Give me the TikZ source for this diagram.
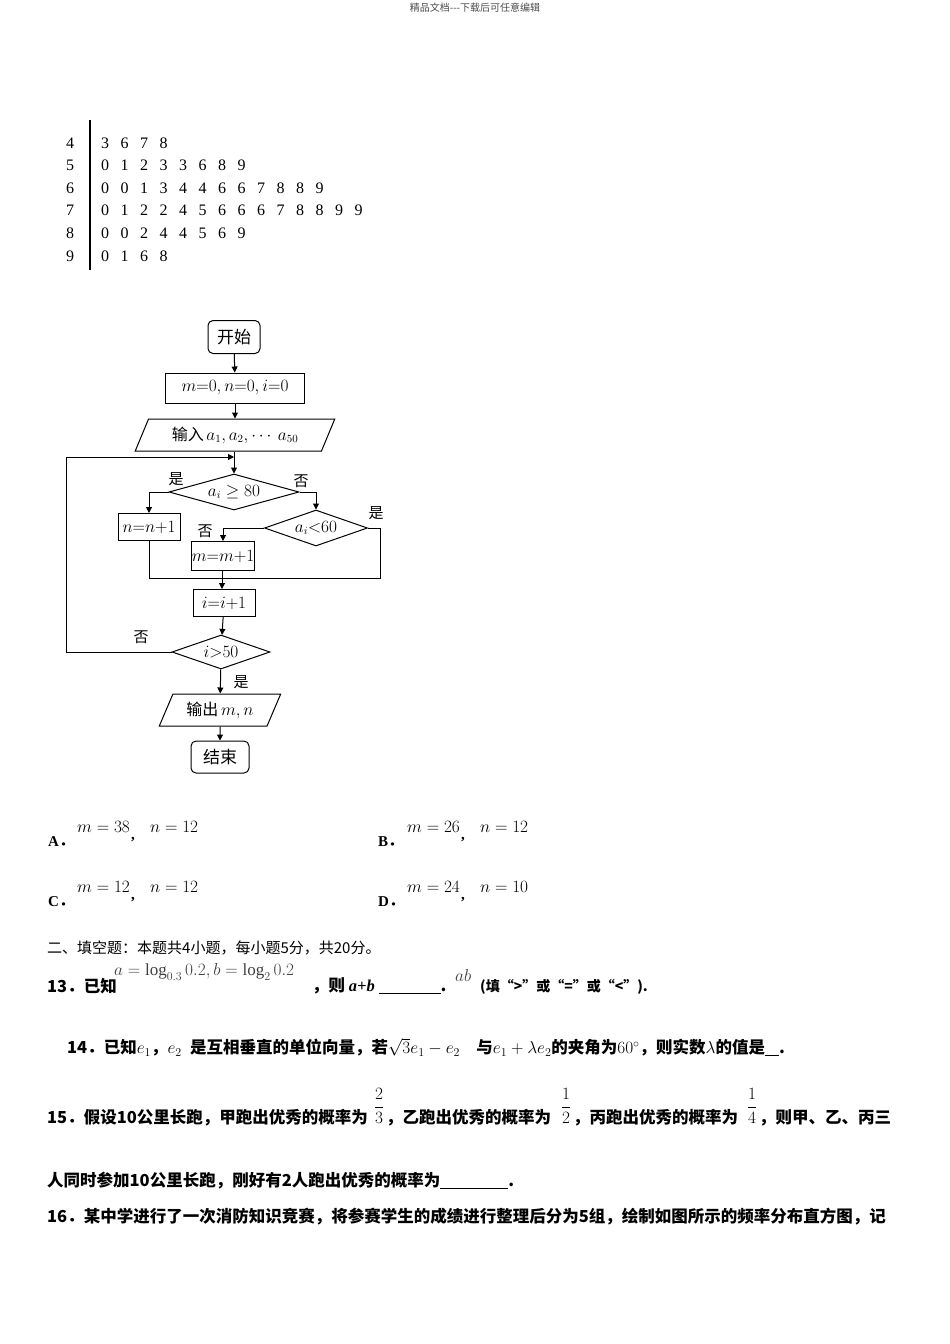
\documentclass[tikz,border=0pt]{standalone}
\usepackage{fontspec}
\setmainfont{Liberation Serif}
\newfontfamily\cjk{Noto Sans CJK SC}
\usetikzlibrary{arrows.meta,shapes.geometric,calc}
\begin{document}
\begin{tikzpicture}[x=1pt,y=-1pt,
 every node/.style={inner sep=0pt},
 txt/.style={anchor=west,font=\fontsize{16.5}{18}\selectfont\cjk\bfseries},
 fc/.style={draw,line width=1pt,font=\fontsize{16}{18}\selectfont},
 rbox/.style={fc,rectangle,rounded corners=5pt,minimum width=52pt,minimum height=33pt,font=\fontsize{17}{19}\selectfont\cjk},
 pbox/.style={fc,rectangle,minimum height=28pt},
 dia/.style={fc,diamond,aspect=3.6},
 par/.style={fc,trapezium,trapezium left angle=60,trapezium right angle=120,trapezium stretches=true,minimum height=32pt},
 ar/.style={line width=1pt,-{Triangle[length=6pt,width=6pt]}},
 ln/.style={line width=1pt},
 lab/.style={font=\fontsize{15}{17}\selectfont\cjk},
 fr/.style={font=\fontsize{17}{19}\selectfont}]
\useasboundingbox (0,0) rectangle (950,1344);
\node[font=\fontsize{10}{12}\selectfont\cjk,text=black!70] (hd) at (475,8) {精品文档---下载后可任意编辑};
% stem and leaf
\draw[line width=1.2pt] (90,120) -- (90,270);
\foreach \s/\y/\l [count=\k] in {4/143/{3 6 7 8},5/165/{0 1 2 3 3 6 8 9},6/188/{0 0 1 3 4 4 6 6 7 8 8 9},7/210/{0 1 2 2 4 5 6 6 6 7 8 8 9 9},8/233/{0 0 2 4 4 5 6 9},9/256/{0 1 6 8}}{
 \node[font=\fontsize{16}{18}\selectfont] (s\k) at (70,\y) {\s};
 \node[anchor=west,font=\fontsize{16}{18}\selectfont,text width=300pt] (l\k) at (101,\y) {\spaceskip=11.5pt\l};
}
% flowchart
\node[rbox] (st) at (234,337) {开始};
\node[pbox,minimum width=139pt,minimum height=30pt] (init) at (235,388) {$m{=}0,n{=}0,i{=}0$};
\node[par,minimum width=200pt] (inp) at (235,435) {\cjk 输入\,$a_1,a_2,\cdots\ a_{50}$};
\node[dia,minimum width=130pt,minimum height=36pt] (d1) at (234,492) {$a_i\geq 80$};
\node[pbox,minimum width=62pt,minimum height=27pt] (nb) at (149,527) {$n{=}n{+}1$};
\node[dia,minimum width=103pt,minimum height=36pt] (d2) at (316,528) {$a_i{<}60$};
\node[pbox,minimum width=63pt,minimum height=29pt] (mb) at (223,556) {$m{=}m{+}1$};
\node[pbox,minimum width=62pt,minimum height=27pt] (ib) at (224,603) {$i{=}i{+}1$};
\node[dia,minimum width=98pt,minimum height=34pt] (d3) at (221,652) {$i{>}50$};
\node[par,minimum width=122pt,minimum height=32pt] (out) at (220,710) {\cjk 输出\,$m,n$};
\node[rbox,minimum width=58pt,minimum height=32pt] (en) at (220,757) {结束};
\coordinate (top) at (234,457);
\coordinate (mg) at (222,578);
\draw[ar] (st) -- (init);
\draw[ar] (init) -- (inp);
\draw[ar] (inp.south -| d1) -- (d1.north);
\draw[ar] (d1.west) -| (nb.north);
\draw[ar] (d1.east) -| (d2.north);
\draw[ar] (d2.west) -| (mb.north);
\draw[ln] (d2.east) -- ++(12,0) |- (mg);
\draw[ln] (nb.south) |- (mg);
\draw[ar] (mb.south -| mg) -- (ib.north -| mg);
\draw[ar] (ib) -- (d3);
\draw[ar] (d3.west) -- ++(-105,0) |- (top);
\draw[ar] (d3) -- (out);
\draw[ar] (out) -- (en);
\node[lab] (y1) at (176,479) {是};
\node[lab] (n1) at (301,481) {否};
\node[lab] (y2) at (376,513) {是};
\node[lab] (n2) at (205,531) {否};
\node[lab] (n3) at (141,637) {否};
\node[lab] (y3) at (241,682) {是};
% options
\foreach \L/\x/\y/\m/\n in {A/48/842/38/12,B/378/842/26/12,C/48/902/12/12,D/378/902/24/10}{
 \node[anchor=west,font=\fontsize{15}{17}\selectfont\bfseries] at (\x,\y) {\L\cjk．};
 \node[anchor=west,font=\fontsize{17}{19}\selectfont] at (\x+29,\y-15) {$m=\m$};
 \node[anchor=west,font=\fontsize{15}{17}\selectfont\bfseries] at (\x+83,\y-2) {,};
 \node[anchor=west,font=\fontsize{17}{19}\selectfont] at (\x+102,\y-15) {$n=\n$};
}
\node[txt,font=\fontsize{15}{17}\selectfont\cjk] (sec) at (47,948) {二、填空题：本题共4小题，每小题5分，共20分。};
\node[txt] (q13) at (47,986) {13．已知};
\node[anchor=west,font=\fontsize{17}{19}\selectfont,text=black!75] (q13a) at (114,972) {$a=\log_{0.3}0.2,b=\log_{2}0.2$};
\node[txt] (q13b) at (312,986) {，则 {\bfseries\itshape\rmfamily a+b} \underline{\hspace{62pt}}.};
\node[anchor=west,font=\fontsize{17}{19}\selectfont,text=black!75] (q13c) at (455,975) {$ab$};
\node[txt,font=\fontsize{14}{15}\selectfont\cjk\bfseries] (q13d) at (480,987) {(填“>”或“=”或“<”).};
\node[txt] (q14) at (67,1047) {14．已知$e_1$，$e_2$\; 是互相垂直的单位向量，若$\sqrt3e_1-e_2$\quad 与$e_1+\lambda e_2$的夹角为$60^\circ$，则实数$\lambda$的值是\underline{\hspace{14pt}}.};
\node[txt] (q15) at (47,1118) {15．假设\textbf{10}公里长跑，甲跑出优秀的概率为};
\node[fr] (f1) at (379,1106) {$\displaystyle\frac{2}{3}$};
\node[txt] (q15c) at (386,1118) {，乙跑出优秀的概率为};
\node[fr] (f2) at (566,1106) {$\displaystyle\frac{1}{2}$};
\node[txt] (q15d) at (573,1118) {，丙跑出优秀的概率为};
\node[fr] (f3) at (752,1106) {$\displaystyle\frac{1}{4}$};
\node[txt] (q15e) at (759,1118) {，则甲、乙、丙三};
\node[txt] (q15b) at (47,1181) {人同时参加\textbf{10}公里长跑，刚好有\textbf{2}人跑出优秀的概率为\underline{\hspace{68pt}}.};
\node[txt] (q16) at (47,1217) {16．某中学进行了一次消防知识竞赛，将参赛学生的成绩进行整理后分为5组，绘制如图所示的频率分布直方图，记};
\end{tikzpicture}
\end{document}
